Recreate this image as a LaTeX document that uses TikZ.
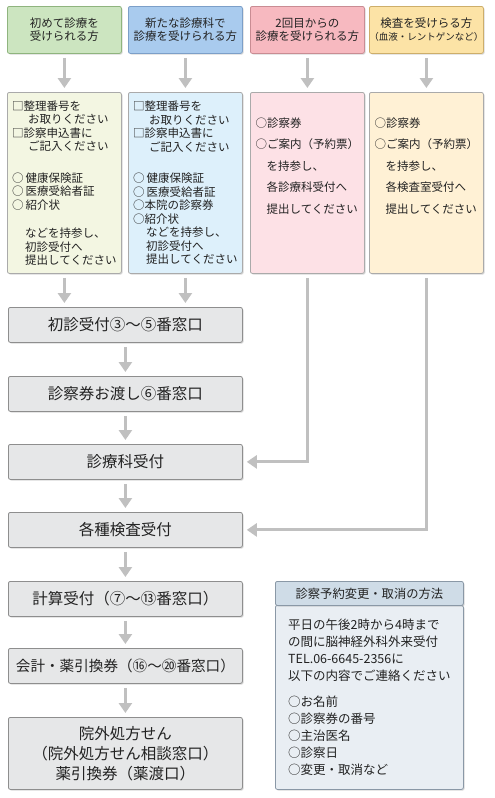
\documentclass[tikz,border=0pt]{standalone}
\usepackage{fontspec}
\setmainfont{Noto Sans CJK JP}
\usepackage{tikz}
\usetikzlibrary{arrows.meta,shadows}
\definecolor{ink}      {HTML}{222222}
\definecolor{flowgray} {HTML}{C0C0C0}
\definecolor{edgegray} {HTML}{8E8E8E}
\definecolor{stepbg}   {HTML}{E6E7E8}
\definecolor{firstfg}  {HTML}{8FB47E}
\definecolor{firstbg}  {HTML}{CCE5C0}
\definecolor{newfg}    {HTML}{7C9FC8}
\definecolor{newbg}    {HTML}{A9CBEE}
\definecolor{repfg}    {HTML}{C98C93}
\definecolor{repbg}    {HTML}{F7B9C0}
\definecolor{testfg}   {HTML}{CDAE6A}
\definecolor{testbg}   {HTML}{FCE3A6}
\definecolor{firstlt}  {HTML}{F3F6E2}
\definecolor{newlt}    {HTML}{DDF0FB}
\definecolor{replt}    {HTML}{FDE1E6}
\definecolor{testlt}   {HTML}{FFF1D5}
\definecolor{infohd}   {HTML}{CFDCE7}
\definecolor{infobg}   {HTML}{E9EEF3}
\definecolor{infofg}   {HTML}{8A98A6}
\tikzset{
  box/.style   ={draw=edgegray, line width=0.8pt, rounded corners=2pt,
                 anchor=north west, inner sep=0pt, text=ink,
                 drop shadow={shadow xshift=1.2pt, shadow yshift=-1.2pt,
                              opacity=0.3}},
  hbox/.style  ={box, minimum width=114pt, minimum height=47pt,
                 align=center, font=\fontsize{11.5}{13}\selectfont},
  dbox/.style  ={box, draw=edgegray!75, minimum width=114pt, minimum height=181pt,
                 align=left, font=\fontsize{11.5}{13.5}\selectfont},
  wdbox/.style ={dbox, font=\fontsize{11.5}{21.5}\selectfont},
  sbox/.style  ={box, fill=stepbg, minimum width=234pt, minimum height=35pt,
                 align=center, font=\fontsize{15.5}{20}\selectfont},
  arr/.style   ={draw=flowgray, line width=3pt, shorten <=4pt, shorten >=4pt,
                 -{Triangle[length=10pt,width=13pt]}},
}
\begin{document}
\begin{tikzpicture}[x=1pt,y=-1pt]
  \useasboundingbox[fill=white] (0,0) rectangle (495,798);

  \node[hbox, draw=firstfg, fill=firstbg] (hdrA) at (7,6)
    {初めて診療を\\受けられる方};
  \node[hbox, draw=newfg, fill=newbg] (hdrB) at (128,6)
    {新たな診療科で\\診療を受けられる方};
  \node[hbox, draw=repfg, fill=repbg] (hdrC) at (250,6)
    {2回目からの\\診療を受けられる方};
  \node[hbox, draw=testfg, fill=testbg] (hdrD) at (369,6)
    {検査を受けらる方\\{\fontsize{9.5}{11}\selectfont（血液・レントゲンなど）}};

  \node[dbox, fill=firstlt] (detA) at (7,92)
    {□整理番号を\\
     \hspace*{16pt}お取りください\\
     □診察申込書に\\
     \hspace*{16pt}ご記入ください\\[18pt]
     ○\,健康保険証\\
     ○\,医療受給者証\\
     ○\,紹介状\\[15pt]
     \hspace*{13pt}などを持参し、\\
     \hspace*{13pt}初診受付へ\\
     \hspace*{13pt}提出してください};
  \node[dbox, fill=newlt] (detB) at (128,92)
    {□整理番号を\\
     \hspace*{16pt}お取りください\\
     □診察申込書に\\
     \hspace*{16pt}ご記入ください\\[18pt]
     ○\,健康保険証\\
     ○\,医療受給者証\\
     ○本院の診察券\\
     ○紹介状\\
     \hspace*{13pt}などを持参し、\\
     \hspace*{13pt}初診受付へ\\
     \hspace*{13pt}提出してください};
  \node[wdbox, fill=replt] (detC) at (250,92)
    {○診察券\\
     ○ご案内（予約票）\\
     \hspace*{11pt}を持参し、\\
     \hspace*{11pt}各診療科受付へ\\
     \hspace*{11pt}提出してください\\[13pt]\mbox{}};
  \node[wdbox, fill=testlt] (detD) at (369,92)
    {○診察券\\
     ○ご案内（予約票）\\
     \hspace*{11pt}を持参し、\\
     \hspace*{11pt}各検査室受付へ\\
     \hspace*{11pt}提出してください\\[13pt]\mbox{}};

  \node[sbox] (recA) at (8,307) {初診受付③〜⑤番窓口};
  \node[sbox] (recB) at (8,376) {診察券お渡し⑥番窓口};
  \node[sbox] (recC) at (8,444) {診療科受付};
  \node[sbox] (recD) at (8,512) {各種検査受付};
  \node[sbox] (recE) at (8,581) {計算受付（⑦〜⑬番窓口）};
  \node[sbox, font=\fontsize{14.6}{20}\selectfont] (recF) at (8,648)
    {会計・薬引換券（⑯〜⑳番窓口）};
  \node[sbox, minimum height=72pt] (recG) at (8,717)
    {院外処方せん\\（院外処方せん相談窓口）\\薬引換券（薬渡口）};

  \node[box, draw=infofg, fill=infobg, minimum width=188pt, minimum height=184pt,
        align=left, font=\fontsize{12.5}{17}\selectfont] (infobody) at (275,605)
    {平日の午後2時から4時まで\\
     の間に脳神経外科外来受付\\
     TEL.06-6645-2356に\\
     以下の内容でご連絡ください\\[9pt]
     ○お名前\\
     ○診察券の番号\\
     ○主治医名\\
     ○診察日\\
     ○変更・取消など};
  \node[box, draw=infofg, fill=infohd, minimum width=188pt, minimum height=24pt,
        font=\fontsize{12.3}{14}\selectfont] (infohead) at (275,581)
    {診察予約変更・取消の方法};

  \draw[arr] (hdrA) -- (detA);
  \draw[arr] (hdrB) -- (detB);
  \draw[arr] (hdrC) -- (detC);
  \draw[arr] (hdrD) -- (detD);
  \draw[arr] (detA.south -| hdrA.south) -- (recA.north -| hdrA.south);
  \draw[arr] (detB.south -| hdrB.south) -- (recA.north -| hdrB.south);
  \draw[arr] (recA) -- (recB);
  \draw[arr] (recB) -- (recC);
  \draw[arr] (recC) -- (recD);
  \draw[arr] (recD) -- (recE);
  \draw[arr] (recE) -- (recF);
  \draw[arr] (recF) -- (recG);
  \draw[arr] (detC.south) |- (recC.east);
  \draw[arr] (detD.south) |- (recD.east);
\end{tikzpicture}
\end{document}
